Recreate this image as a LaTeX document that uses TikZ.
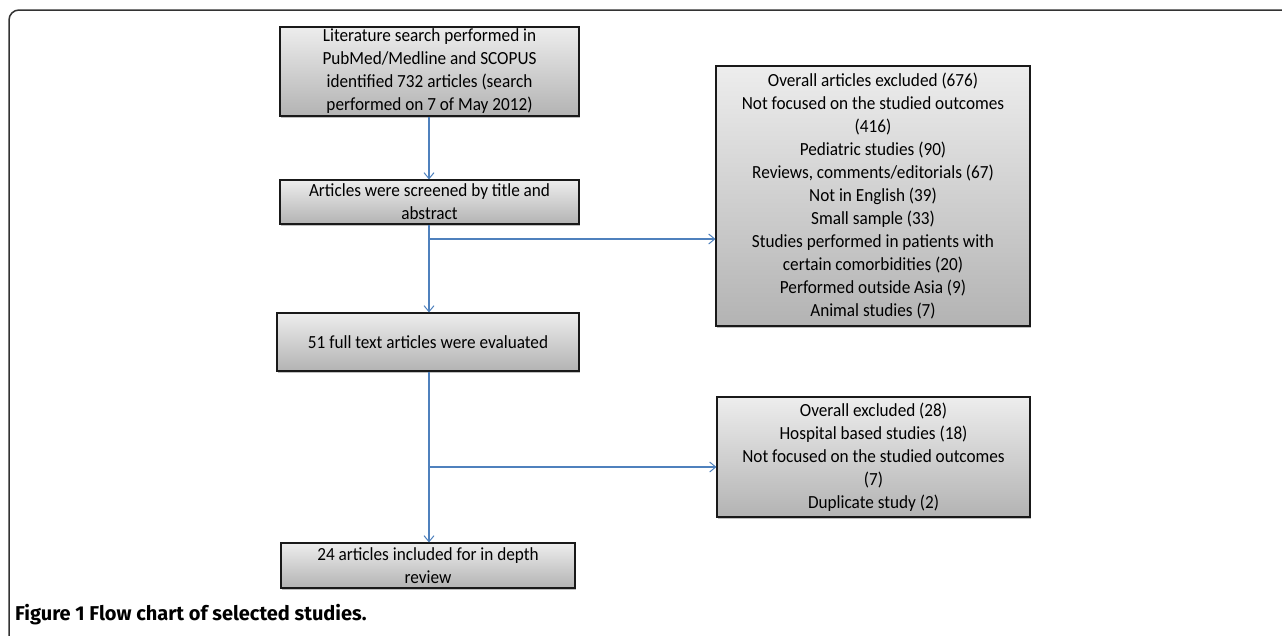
\documentclass[tikz,border=0pt]{standalone}
\usepackage{fontspec}
\setmainfont[FakeStretch=0.93]{Carlito}
\newfontfamily\capfont{Fira Sans}
\usetikzlibrary{arrows.meta,shadows}
\definecolor{arrowblue}{HTML}{4F81BD}
\definecolor{boxtop}{HTML}{EDEDED}
\definecolor{boxbot}{HTML}{B3B3B3}
\definecolor{framegray}{HTML}{333333}
\tikzset{
  flowbox/.style={draw=black!90, line width=1.1pt, top color=boxtop, bottom color=boxbot,
    align=center, inner sep=0pt, font=\fontsize{18.5}{23}\selectfont,
    drop shadow={opacity=0.25, shadow xshift=1.2pt, shadow yshift=-1.6pt, fill=black}},
  flowarrow/.style={draw=arrowblue, line width=1.2pt, -{Straight Barb[length=6pt,width=10pt,line width=1pt]}}
}
\begin{document}
\begin{tikzpicture}[x=1pt,y=-1pt]
\useasboundingbox (0,0) rectangle (1282,635);
% outer frame
\draw[framegray, line width=1.5pt, rounded corners=10pt] (9,640) -- (9,10) -- (1290,10);
% left column
\node[flowbox, minimum width=299pt, minimum height=89pt] (b1) at (429.5,71.5)
  {Literature search performed in\\PubMed/Medline and SCOPUS\\identified 732 articles (search\\performed on 7 of May 2012)};
\node[flowbox, minimum width=299pt, minimum height=44pt] (b2) at (429.5,202)
  {Articles were screened by title and\\abstract};
\node[flowbox, minimum width=302pt, minimum height=58pt] (b3) at (428,342)
  {51 full text articles were evaluated};
\node[flowbox, minimum width=294pt, minimum height=45pt] (b4) at (428,565.5)
  {24 articles included for in depth\\review};
% right column
\node[flowbox, minimum width=314pt, minimum height=260pt] (r1) at (873,196)
  {Overall articles excluded (676)\\Not focused on the studied outcomes\\(416)\\Pediatric studies (90)\\Reviews, comments/editorials (67)\\Not in English (39)\\Small sample (33)\\Studies performed in patients with\\certain comorbidities (20)\\Performed outside Asia (9)\\Animal studies (7)};
\node[flowbox, minimum width=313pt, minimum height=120pt] (r2) at (873.5,457)
  {Overall excluded (28)\\Hospital based studies (18)\\Not focused on the studied outcomes\\(7)\\Duplicate study (2)};
% connectors
\coordinate (j1) at (429,239);
\coordinate (j2) at (429,467);
\draw[flowarrow] (b1.south -| j1) -- (b2.north -| j1);
\draw[flowarrow] (b2.south -| j1) -- (b3.north -| j1);
\draw[flowarrow] (j1) -- (j1 -| r1.west);
\draw[flowarrow] (b3.south -| j2) -- (b4.north -| j2);
\draw[flowarrow] (j2) -- (j2 -| r2.west);
% caption
\node[anchor=base west, inner sep=0pt, font=\capfont\bfseries\fontsize{20}{23}\selectfont] (cap) at (15,620)
  {Figure 1 Flow chart of selected studies.};
\end{tikzpicture}
\end{document}
